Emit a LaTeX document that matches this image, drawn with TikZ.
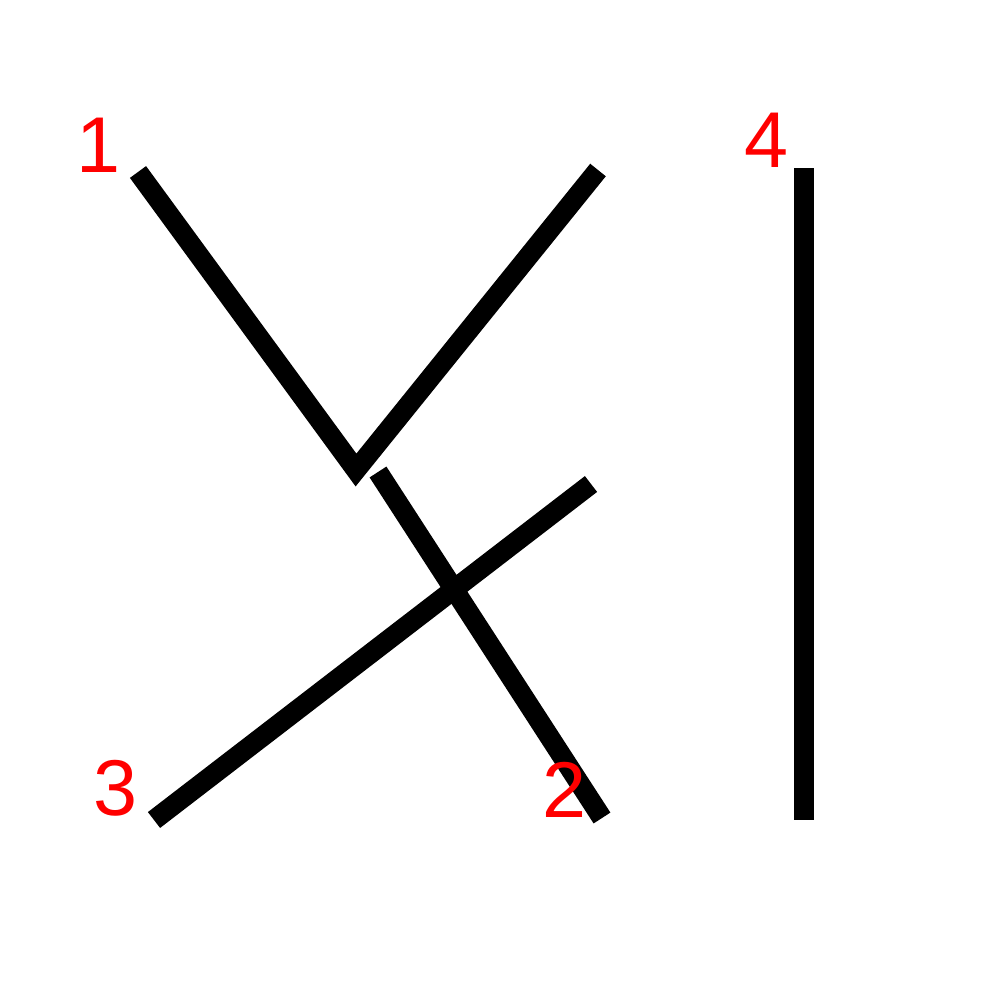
\documentclass[tikz,border=0pt]{standalone}
\usepackage{fontspec}
\setmainfont{Liberation Sans}
\usetikzlibrary{positioning}

\begin{document}
\begin{tikzpicture}[
    x=0.01cm, y=-0.01cm,
    strand/.style={draw=black, line width=5.69pt, line cap=butt, line join=miter},
    num/.style={text=red, anchor=base, inner sep=0pt, font=\fontsize{22.5}{26}\selectfont}
]
\useasboundingbox (0,0) rectangle (1000,1000);

% --- Extremos de los trazos ---
\coordinate (a1) at (138,172);
\coordinate (av) at (356,470);
\coordinate (a2) at (598,170);
\coordinate (b1) at (378,472);
\coordinate (b2) at (602,818);
\coordinate (c1) at (154,820);
\coordinate (c2) at (591,484);
\coordinate (d1) at (804,168);
\coordinate (d2) at (804,820);

% --- Trazos ---
\draw[strand] (a1) -- (av) -- (a2);
\draw[strand] (b1) -- (b2);
\draw[strand] (c1) -- (c2);
\draw[strand] (d1) -- (d2);

% --- Etiquetas ---
\node[num] (l1) at (99,172) {1};
\node[num] (l2) at (564,817) {2};
\node[num] (l3) at (115,815) {3};
\node[num] (l4) at (766,167) {4};

\end{tikzpicture}
\end{document}
